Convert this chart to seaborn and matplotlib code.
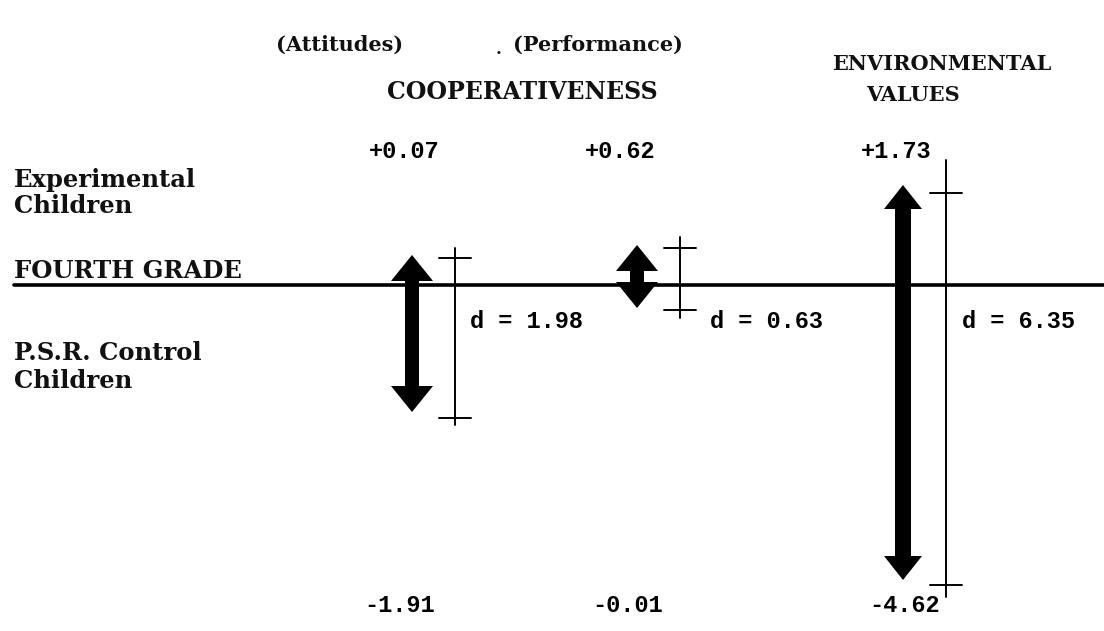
import numpy as np
import matplotlib
matplotlib.use("Agg")
import matplotlib.pyplot as plt
from matplotlib.patches import Polygon
import seaborn as sns

# values printed in the diagram
groups = ["Attitudes", "Performance", "Environmental"]
top_means = ["+0.07", "+0.62", "+1.73"]
bottom_means = ["-1.91", "-0.01", "-4.62"]
d_values = [1.98, 0.63, 6.35]

# arrow / bracket extents (schematic units, baseline = 0)
arrow_top = [0.30, 0.40, 1.00]
arrow_bottom = [-1.27, -0.23, -2.95]
bracket_top = [0.37, 0.48, 1.25]
bracket_bottom = [-1.40, -0.33, -3.12]
tick_top = [0.27, 0.37, 0.92]
tick_bottom = [-1.33, -0.25, -3.00]

sns.set_theme(style="white")
plt.rcParams["font.family"] = ["DejaVu Serif"]

fig = plt.figure(figsize=(11.04, 6.31), dpi=100)
ax = fig.add_axes([0, 0, 1, 1])
ax.set_xlim(0, 1104)
ax.set_ylim(-3.46, 2.85)
ax.axis("off")


def py(p):
    # pixel row -> schematic units
    return (285 - p) / 100.0


arrow_x = [412, 637, 903]
bracket_x = [455, 680, 946]
shaft_w = [7, 7, 8]
head_w = [21, 21, 19]
head_l = [0.26, 0.26, 0.24]


def double_arrow(x, y0, y1, sw, hw, hl):
    pts = [
        (x, y1), (x + hw, y1 - hl), (x + sw, y1 - hl),
        (x + sw, y0 + hl), (x + hw, y0 + hl), (x, y0),
        (x - hw, y0 + hl), (x - sw, y0 + hl),
        (x - sw, y1 - hl), (x - hw, y1 - hl),
    ]
    ax.add_patch(Polygon(pts, closed=True, color="black", lw=0))


# baseline
ax.plot([14, 1104], [0, 0], color="black", lw=2.6)

for i in range(3):
    double_arrow(arrow_x[i], arrow_bottom[i], arrow_top[i],
                 shaft_w[i], head_w[i], head_l[i])
    bx = bracket_x[i]
    ax.plot([bx, bx], [bracket_bottom[i], bracket_top[i]], color="black", lw=1.4)
    for ty in (tick_top[i], tick_bottom[i]):
        ax.plot([bx - 16, bx + 16], [ty, ty], color="black", lw=1.4)

word = dict(fontweight="bold", color="#111111")
num = dict(fontsize=17, fontweight="bold", family="Liberation Mono", color="black")

# column headings
ax.text(340, py(45), "(Attitudes)", ha="center", va="center", fontsize=15, **word)
ax.text(499, py(49), ".", ha="center", va="center", fontsize=12, **word)
ax.text(513, py(45), "(Performance)", ha="left", va="center", fontsize=15, **word)
ax.text(522, py(92), "COOPERATIVENESS", ha="center", va="center", fontsize=17, **word)
ax.text(942, py(64), "ENVIRONMENTAL", ha="center", va="center", fontsize=15, **word)
ax.text(913, py(95), "VALUES", ha="center", va="center", fontsize=15, **word)

# row labels
ax.text(14, py(193), "Experimental\nChildren", ha="left", va="center",
        linespacing=1.15, fontsize=17.5, **word)
ax.text(14, py(271), "FOURTH GRADE", ha="left", va="center", fontsize=17.5, **word)
ax.text(14, py(367), "P.S.R. Control\nChildren", ha="left", va="center",
        linespacing=1.2, fontsize=17.5, **word)

top_x = [404, 620, 896]
bot_x = [400, 628, 905]
d_x = [470, 710, 962]
for i in range(3):
    ax.text(top_x[i], py(151), top_means[i], ha="center", va="center", **num)
    ax.text(bot_x[i], py(605), bottom_means[i], ha="center", va="center", **num)
    ax.text(d_x[i], py(322), f"d = {d_values[i]:.2f}", ha="left", va="center", **num)

fig.savefig("out.png", dpi=100, facecolor="white")
